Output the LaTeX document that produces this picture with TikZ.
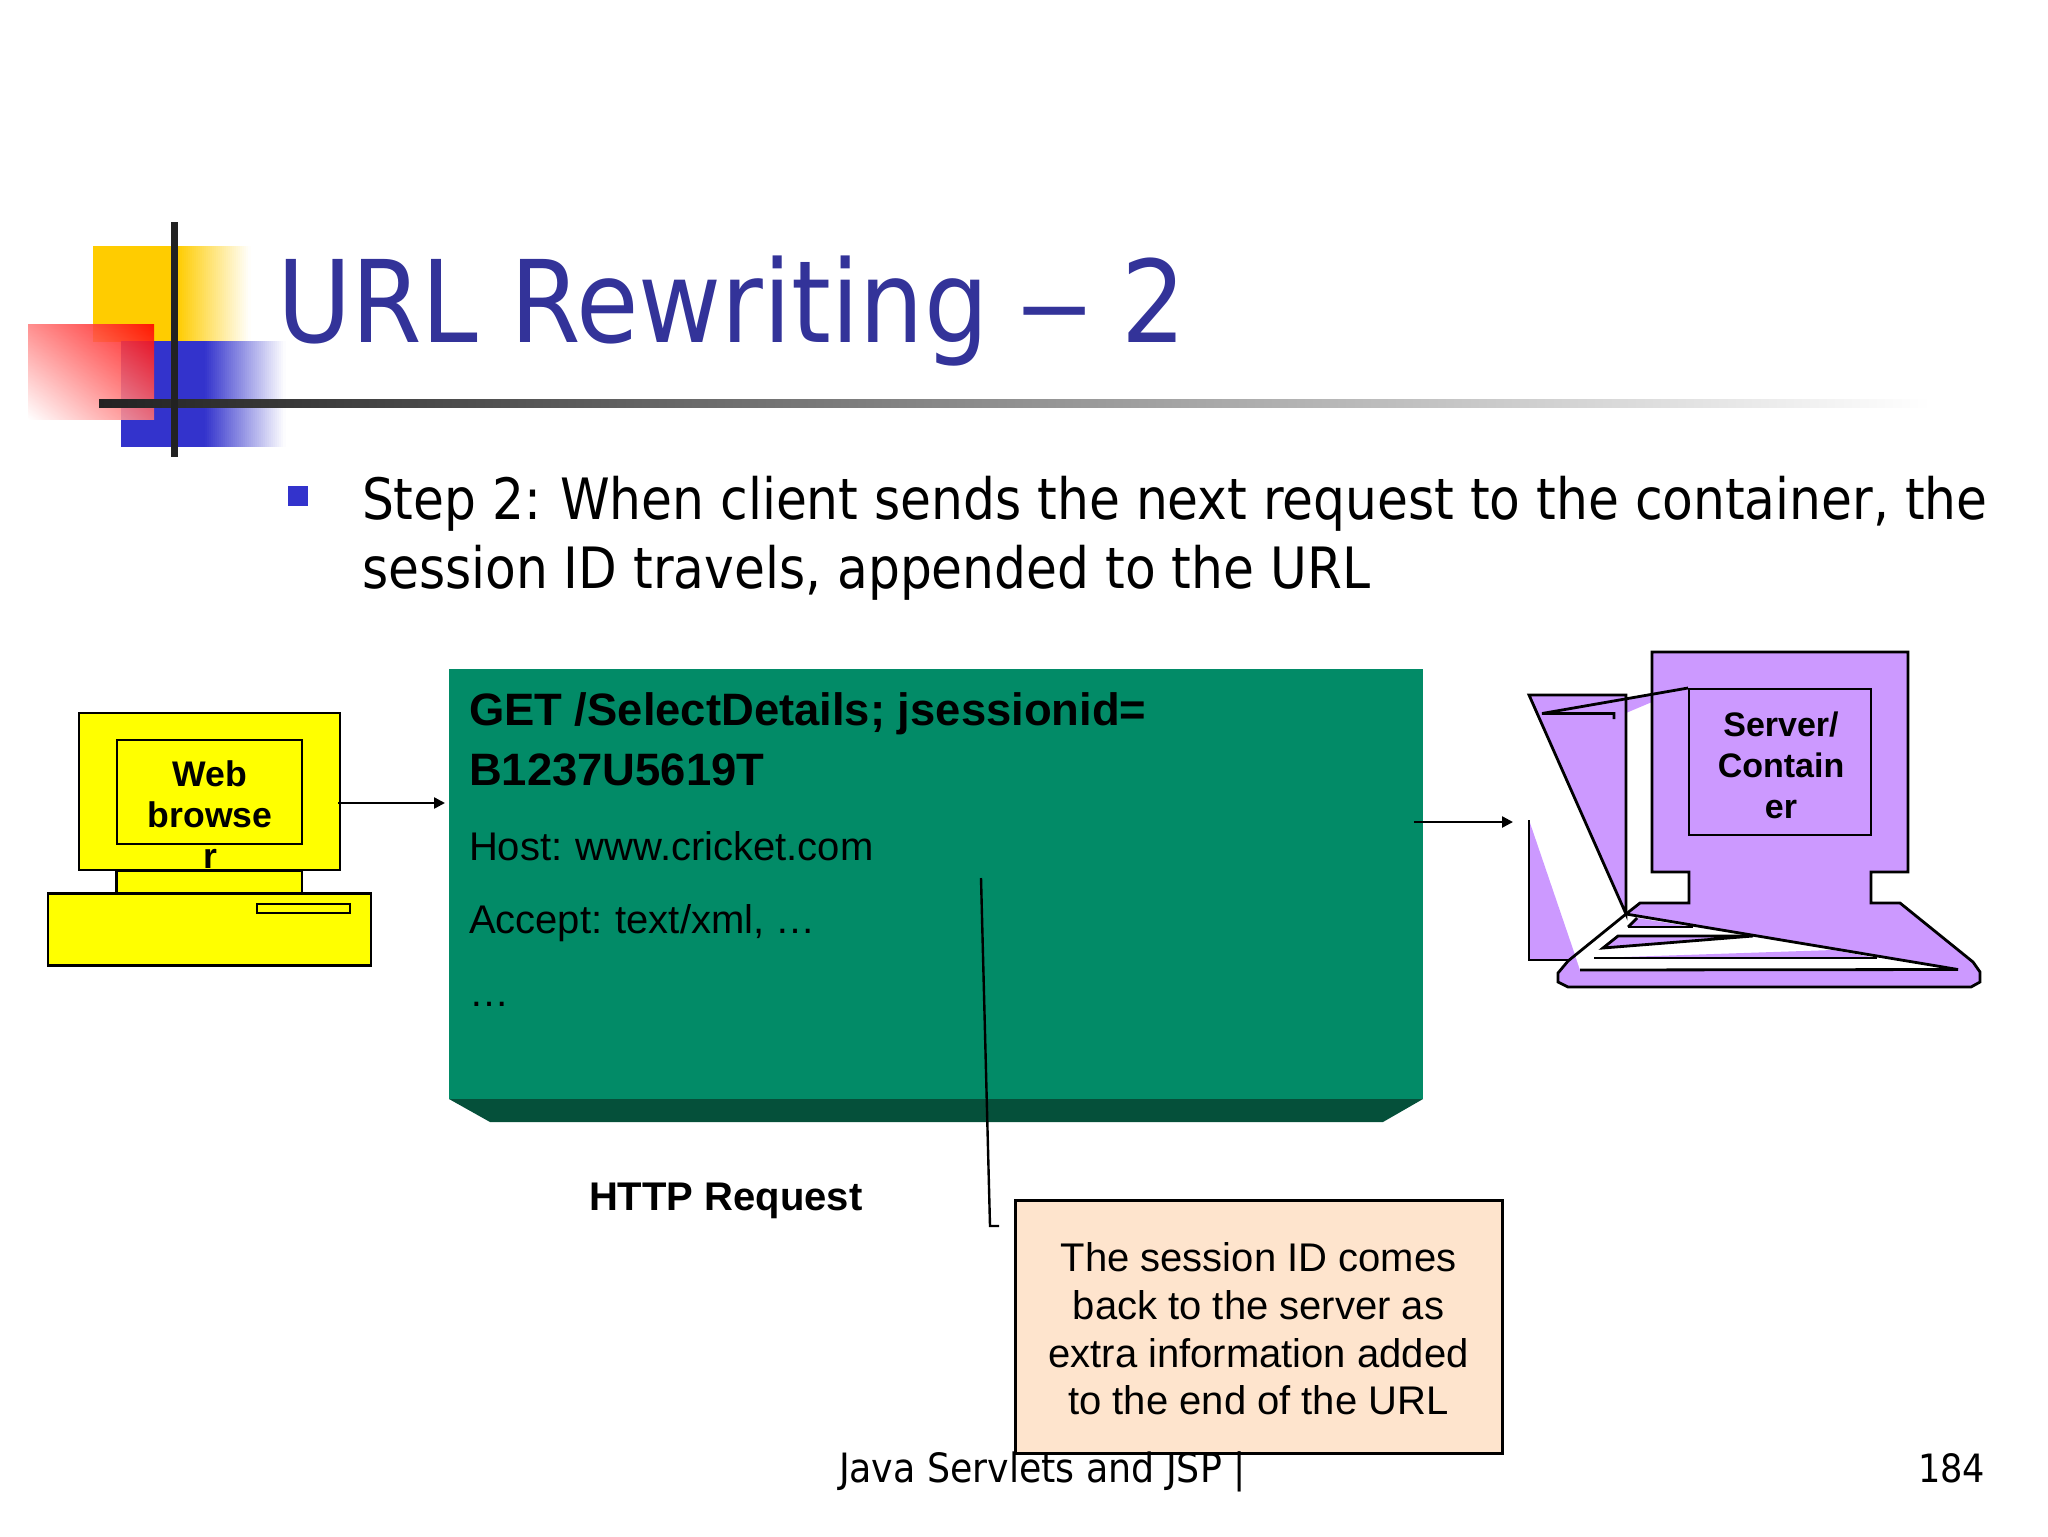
\documentclass[tikz,border=0pt]{standalone}
\usepackage{fontspec}
\setmainfont{Liberation Sans}
\newfontfamily\tah{DejaVu Sans Condensed}
\newfontfamily\tahT[FakeStretch=0.99]{DejaVu Sans Condensed}
\newfontfamily\tahB[FakeStretch=0.98]{DejaVu Sans Condensed}
\usetikzlibrary{arrows.meta,shadings}
\definecolor{titleblue}{HTML}{333399}
\definecolor{bulletblue}{HTML}{3333CC}
\definecolor{logoyellow}{HTML}{FFCC00}
\definecolor{barblack}{HTML}{222222}
\definecolor{pcyellow}{HTML}{FFFF00}
\definecolor{logored}{HTML}{FF0000}
\definecolor{pcpurple}{HTML}{CC99FF}
\definecolor{reqgreen}{HTML}{028B67}
\definecolor{reqdark}{HTML}{05503A}
\definecolor{notepeach}{HTML}{FEE4CD}
\tikzset{
  x=0.5pt,y=-0.5pt,
  lbl/.style={inner sep=0pt,outer sep=0pt,anchor=base west},
  pcline/.style={draw=black,line width=1.4pt,line join=miter},
  conn/.style={draw=black,line width=1.2pt,-{Triangle[length=5.5pt,width=5.5pt]}},
  pcbox/.style={draw=black,line width=1.4pt,inner sep=0pt,outer sep=0pt},
}
\begin{document}
\begin{tikzpicture}
\useasboundingbox (0,0) rectangle (2048,1536);
% logo
\fill[logoyellow] (93,246) rectangle (179,342);
\foreach \i in {0,...,35}{
  \pgfmathsetmacro{\p}{100-100*(\i+0.5)/36}
  \fill[logoyellow!\p!white] ({178+2*\i},246) rectangle ({180.6+2*\i},342);
}
\fill[bulletblue] (121,341) rectangle (206,447);
\foreach \i in {0,...,39}{
  \pgfmathsetmacro{\p}{100-100*(\i+0.5)/40}
  \fill[bulletblue!\p!white] ({205+2*\i},341) rectangle ({207.6+2*\i},447);
}
\shade[upper right=logored,upper left=logored!50!white,lower right=logored!55!white,lower left=white,opacity=0.88] (28,324) rectangle (154,419);
\shade[left color=barblack,right color=white] (99,399) rectangle (1930,407);
\fill[barblack] (171,222) rectangle (178,457);
% title
\node[lbl,text=titleblue,font=\tahT\fontsize{57}{60}\selectfont] (title) at (277,342) {URL Rewriting\hspace{-2pt} \scalebox{1.5}[1]{–}\hspace{-2pt} 2};
% bullet
\fill[bulletblue] (288,486) rectangle (308,506);
\node[lbl,font=\tahB\fontsize{28.5}{30}\selectfont] (body1) at (362,519) {Step 2:\kern-1.2pt{} When client sends the next request to the container, the};
\node[lbl,font=\tahB\fontsize{28.5}{30}\selectfont] (body2) at (362,588) {session ID travels, appended to the URL};
% browser PC
\filldraw[fill=pcyellow,pcline] (116.5,871) rectangle (302,893);
\filldraw[fill=pcyellow,pcline] (48,893.5) rectangle (371,965.5);
\filldraw[fill=pcyellow,pcline] (257,904) rectangle (350,913);
\node[pcbox,fill=pcyellow,minimum width=130.5pt,minimum height=78.5pt] (browser) at (209.5,791.5) {};
\node[pcbox,minimum width=92.5pt,minimum height=52pt] (bscreen) at (209.5,792) {};
\node[inner sep=0pt,align=center,font=\bfseries\fontsize{17.8}{20.5}\selectfont] (blabel) at (210,815) {Web\\browse\\r};
% request
\fill[reqdark] (449,1099) -- (1423,1099) -- (1383,1122) -- (490,1122) -- cycle;
\node[fill=reqgreen,inner sep=0pt,outer sep=0pt,minimum width=487pt,minimum height=215pt] (request) at (936,884) {};
\node[lbl,font=\bfseries\fontsize{22.7}{25}\selectfont] (get) at (469,725) {GET /SelectDetails; jsessionid=};
\node[lbl,font=\bfseries\fontsize{22.7}{25}\selectfont] (sid) at (469,785) {B1237U5619T};
\node[lbl,font=\fontsize{20}{22}\selectfont] (host) at (469,860) {Host:\kern-0.8pt{} www.cricket.com};
\node[lbl,font=\fontsize{20}{22}\selectfont] (accept) at (469,933) {Accept:\kern-0.8pt{} text/xml, …};
\node[lbl,font=\fontsize{20}{22}\selectfont] (dots) at (469,1006) {…};
\node[lbl,font=\bfseries\fontsize{20}{23}\selectfont] (http) at (589,1210) {HTTP Request};
% server PC
\fill[pcpurple] (1529,695) -- (1626,695) -- (1626,914) -- cycle;
\fill[pcpurple] (1626,699) -- (1652,694) -- (1652,702) -- (1626,713) -- cycle;
\fill[pcpurple] (1529,820) -- (1529,960) -- (1568,960) -- (1575,955) -- cycle;
\fill[pcpurple] (1652,652) -- (1908,652) -- (1908,872) -- (1871,872) -- (1871,903) -- (1900,903) -- (1973,962) -- (1980,972) -- (1980,982) -- (1971,987) -- (1568,987) -- (1558,982) -- (1558,973) -- (1568,961) -- (1626,914) -- (1640,903) -- (1689,903) -- (1689,872) -- (1652,872) -- cycle;
\fill[white] (1626,914) -- (1958,969.5) -- (1580,970) -- (1575,955) -- cycle;
\fill[pcpurple] (1628,927) -- (1637,918) -- (1693,927) -- cycle;
\fill[pcpurple] (1603,948) -- (1618,936) -- (1753,936) -- cycle;
\fill[pcpurple] (1594,958) -- (1833,950) -- (1877,958) -- cycle;
\draw[pcline] (1652,652) -- (1908,652) -- (1908,872) -- (1871,872) -- (1871,903) -- (1900,903) -- (1973,962) -- (1980,972) -- (1980,982) -- (1971,987) -- (1568,987) -- (1558,982) -- (1558,973) -- (1568,961) -- (1626,914) -- (1640,903) -- (1689,903) -- (1689,872) -- (1652,872) -- cycle;
\draw[pcline] (1529,695) -- (1626,695) -- (1626,914) -- cycle;
\draw[pcline] (1529,820) -- (1529,960) -- (1568,960);
\draw[pcline] (1626,914) -- (1958,969.5) -- (1580,970);
\draw[pcline] (1628,927) -- (1637,918);
\draw[pcline] (1628,927) -- (1693,927);
\draw[pcline] (1753,936) -- (1618,936) -- (1603,948) -- (1753,936);
\draw[pcline] (1594,958) -- (1877,958);
\draw[pcline] (1688,688) -- (1542,713.5) -- (1614,713.5) -- (1614,719);
\node[pcbox,minimum width=91pt,minimum height=73pt] (sscreen) at (1780,762) {};
\node[inner sep=0pt,align=center,font=\bfseries\fontsize{17}{20.5}\selectfont] (slabel) at (1781,765.5) {Server/\\Contain\\er};
% callout
\node[draw=black,line width=1.5pt,fill=notepeach,inner sep=0pt,outer sep=0pt,minimum width=243.5pt,minimum height=126.5pt] (note) at (1258.5,1326.5) {};
\node[inner sep=0pt,align=center,font=\fontsize{20}{23.85}\selectfont] (notetext) at (1258.5,1329) {The session ID comes\\back to the server as\\extra information added\\to the end of the URL};
% connectors
\coordinate (ya) at (0,803);
\coordinate (yb) at (0,822);
\coordinate (serverin) at (1513,822);
\coordinate (lead) at (981,878);
\coordinate (leadbend) at (990,1226);
\draw[conn,shorten <=-1pt,shorten >=2pt] (browser.east |- ya) -- (request.west |- ya);
\draw[conn] ([xshift=-4.5pt]request.east |- yb) -- (serverin);
\draw[draw=black,line width=1.2pt] (lead) -- (leadbend) -- ([xshift=-8pt]note.west |- leadbend);
% footer
\node[lbl,font=\tah\fontsize{20.2}{22}\selectfont] (footer) at (839,1482) {Java Servlets and JSP |};
\node[inner sep=0pt,outer sep=0pt,anchor=base east,font=\tah\fontsize{19.5}{22}\selectfont] (page) at (1985,1482) {184};
\end{tikzpicture}
\end{document}
